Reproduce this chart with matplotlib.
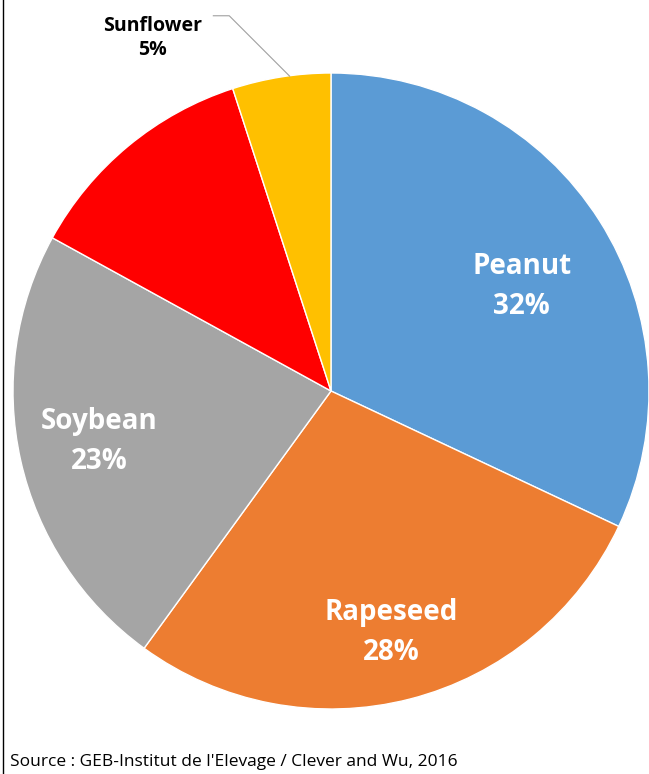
import matplotlib
matplotlib.use("Agg")
import matplotlib.pyplot as plt
from matplotlib.lines import Line2D

labels = ["Peanut", "Rapeseed", "Soybean", "Other", "Sunflower"]
values = [32, 28, 23, 12, 5]
colors = ["#5B9BD5", "#ED7D31", "#A5A5A5", "#FF0000", "#FFC000"]
show = [True, True, True, False, True]

plt.rcParams['font.family'] = ['Open Sans', 'DejaVu Sans']
fig = plt.figure(figsize=(6.49, 7.74), dpi=100)
W, H = 649, 774
cx, cy, r = 331, 391, 318
ax = fig.add_axes([(cx - r) / W, 1 - (cy + r) / H, 2 * r / W, 2 * r / H])
ax.pie(values, colors=colors, startangle=90, counterclock=False, radius=1,
       wedgeprops=dict(linewidth=1, edgecolor="white"))
ax.set_xlim(-1, 1); ax.set_ylim(-1, 1); ax.set_aspect('equal')
ax.axis('off')

pos = {"Peanut": (0.60, 0.33), "Rapeseed": (0.19, -0.76), "Soybean": (-0.73, -0.16)}
for lab, v, s in zip(labels, values, show):
    if not s:
        continue
    if lab in pos:
        ax.text(*pos[lab], f"{lab}\n{v}%", ha='center', va='center', color='white',
                fontsize=20, fontweight='bold', linespacing=1.5)
    else:
        ax.text(-0.56, 1.11, f"{lab}\n{v}%", ha='center', va='center', color='black',
                fontsize=14, fontweight='bold', linespacing=1.3, clip_on=False)
        ax.plot([-0.37, -0.32, -0.13], [1.18, 1.18, 0.99], color='#A0A0A0', lw=0.8, clip_on=False)

fig.add_artist(Line2D([3 / W, 3 / W], [0, 1], color='black', lw=1))
fig.text(10 / W, 1 - 762 / H, "Source : GEB-Institut de l'Elevage / Clever and Wu, 2016",
         fontsize=12.5, va='center', ha='left')
fig.savefig("out.png", dpi=100, facecolor='white')
